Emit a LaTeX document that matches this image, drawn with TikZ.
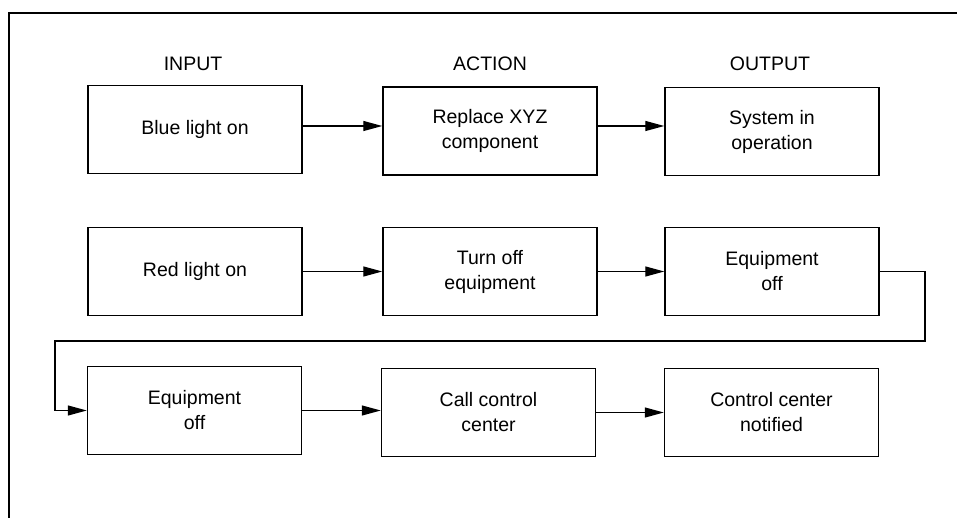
\documentclass[tikz,border=0pt]{standalone}
\usepackage{fontspec}
\setmainfont{Liberation Sans}
\usetikzlibrary{arrows.meta}
\begin{document}
\begin{tikzpicture}[x=1pt,y=-1pt,
  box/.style={draw,line width=1.5pt,minimum width=214pt,minimum height=88pt,
    align=center,inner sep=0pt,font=\fontsize{19.5}{25}\selectfont},
  head/.style={font=\fontsize{19.5}{25}\selectfont},
  arr/.style={line width=1.3pt,-{Triangle[length=19pt,width=10pt]}}]
\useasboundingbox (0,0) rectangle (957,518);
% open frame: top and left edges
\draw[line width=2pt] (9,518) -- (9,13) -- (960,13);
% column headings
\node[head] (hin) at (193,64) {INPUT};
\node[head] (hact) at (490,64) {ACTION};
\node[head] (hout) at (770,64) {OUTPUT};
% first row
\node[box] (A) at (195,129.5) {Blue light on};
\node[box] (B) at (490,131) {Replace XYZ\\component};
\node[box] (C) at (772,131.5) {System in\\operation};
% second row
\node[box] (D) at (195,271.5) {Red light on};
\node[box] (E) at (490,271.5) {Turn off\\equipment};
\node[box] (F) at (772,271.5) {Equipment\\off};
% third row
\node[box] (G) at (194.5,410.5) {Equipment\\off};
\node[box] (H) at (488.5,412.5) {Call control\\center};
\node[box] (I) at (771.5,412.5) {Control center\\notified};
% connectors
\draw[arr] ([yshift=3.5pt]A.east) -- ([yshift=3.5pt]A.east -| B.west);
\draw[arr] ([yshift=5pt]B.east) -- ([yshift=5pt]B.east -| C.west);
\draw[arr] (D.east) -- (D.east -| E.west);
\draw[arr] (E.east) -- (E.east -| F.west);
\draw[arr] (G.east) -- (G.east -| H.west);
\draw[arr] (H.east) -- (H.east -| I.west);
\coordinate (loopR) at (925,341);
\coordinate (loopL) at (55,341);
\draw[arr] (F.east) -| (loopR) -- (loopL) |- (G.west);
\end{tikzpicture}
\end{document}
